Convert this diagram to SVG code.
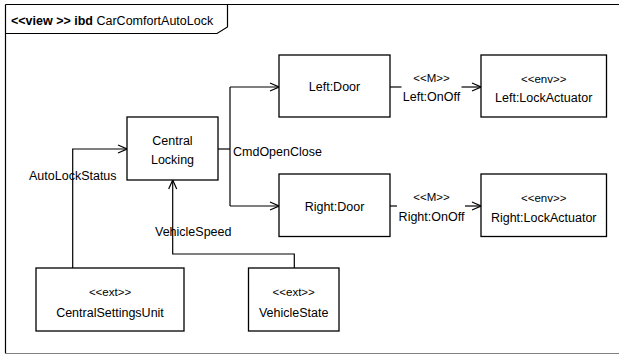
<svg xmlns="http://www.w3.org/2000/svg" width="619" height="355" viewBox="0 0 619 355">
<style>
text{font-family:"Liberation Sans",Arial,sans-serif;fill:#000;}
.t{font-size:12.5px;text-anchor:middle;}
.s{font-size:11.5px;text-anchor:middle;}
.l{font-size:12.5px;}
.box{fill:#fff;stroke:#000;stroke-width:1.3;}
.c{fill:none;stroke:#000;stroke-width:1.2;}
</style>
<defs>
<marker id="arr" viewBox="0 0 10 10" refX="10" refY="5" markerWidth="10" markerHeight="10" markerUnits="userSpaceOnUse" orient="auto">
<path d="M1,1 L10,5 L1,9" fill="none" stroke="#000" stroke-width="1.2"/>
</marker>
</defs>
<rect x="0" y="0" width="619" height="355" fill="#fff"/>
<g id="frame">
<line x1="5.5" y1="4.5" x2="619" y2="4.5" stroke="#000" stroke-width="1.2"/>
<line x1="5.5" y1="4.5" x2="5.5" y2="353.5" stroke="#000" stroke-width="1.2"/>
<line x1="5.5" y1="353.5" x2="619" y2="353.5" stroke="#808080" stroke-width="1.2"/>
<path d="M5.5,33.5 L217,33.5 L227.5,27 L227.5,4.5" fill="none" stroke="#000" stroke-width="1.2"/>
<text x="11" y="25" style="font-size:12.5px"><tspan font-weight="bold">&lt;&lt;view &gt;&gt; ibd</tspan> CarComfortAutoLock</text>
</g>
<g id="connectors">
<path class="c" d="M72.7,268 V149 H127" marker-end="url(#arr)"/>
<path class="c" d="M294.3,268 V254 H172.7 V180" marker-end="url(#arr)"/>
<path class="c" d="M218,149 H230"/>
<path class="c" d="M230,87 V206"/>
<path class="c" d="M230,87 H279" marker-end="url(#arr)"/>
<path class="c" d="M230,206 H279" marker-end="url(#arr)"/>
<path class="c" d="M390,87 H401.5"/>
<path class="c" d="M461.5,87 H481" marker-end="url(#arr)"/>
<path class="c" d="M390,206 H397"/>
<path class="c" d="M465,206 H481" marker-end="url(#arr)"/>
<text class="l" x="72.8" y="180" text-anchor="middle">AutoLockStatus</text>
<text class="l" x="155" y="236">VehicleSpeed</text>
<text class="l" x="233" y="156">CmdOpenClose</text>
<text class="s" x="431.5" y="82">&lt;&lt;M&gt;&gt;</text>
<text class="t" x="431.5" y="101">Left:OnOff</text>
<text class="s" x="431.5" y="201">&lt;&lt;M&gt;&gt;</text>
<text class="t" x="431.5" y="221">Right:OnOff</text>
</g>
<g id="centralLocking">
<rect class="box" x="127" y="117" width="91" height="63"/>
<text class="t" x="172.5" y="145">Central</text>
<text class="t" x="172.5" y="164">Locking</text>
</g>
<g id="leftDoor">
<rect class="box" x="279" y="55" width="111" height="62"/>
<text class="t" x="334.5" y="91">Left:Door</text>
</g>
<g id="leftLockActuator">
<rect class="box" x="481" y="55" width="125.5" height="62"/>
<text class="s" x="543.7" y="82.5">&lt;&lt;env&gt;&gt;</text>
<text class="t" x="543.7" y="101.5">Left:LockActuator</text>
</g>
<g id="rightDoor">
<rect class="box" x="279" y="174" width="111" height="62.5"/>
<text class="t" x="334.5" y="211">Right:Door</text>
</g>
<g id="rightLockActuator">
<rect class="box" x="481" y="174" width="125.5" height="62.5"/>
<text class="s" x="543.7" y="202">&lt;&lt;env&gt;&gt;</text>
<text class="t" x="543.7" y="221.5">Right:LockActuator</text>
</g>
<g id="centralSettingsUnit">
<rect class="box" x="36" y="268" width="148" height="63"/>
<text class="s" x="110" y="296">&lt;&lt;ext&gt;&gt;</text>
<text class="t" x="110" y="317">CentralSettingsUnit</text>
</g>
<g id="vehicleState">
<rect class="box" x="248.5" y="268" width="90.5" height="63"/>
<text class="s" x="293.7" y="296">&lt;&lt;ext&gt;&gt;</text>
<text class="t" x="293.7" y="317">VehicleState</text>
</g>
</svg>
